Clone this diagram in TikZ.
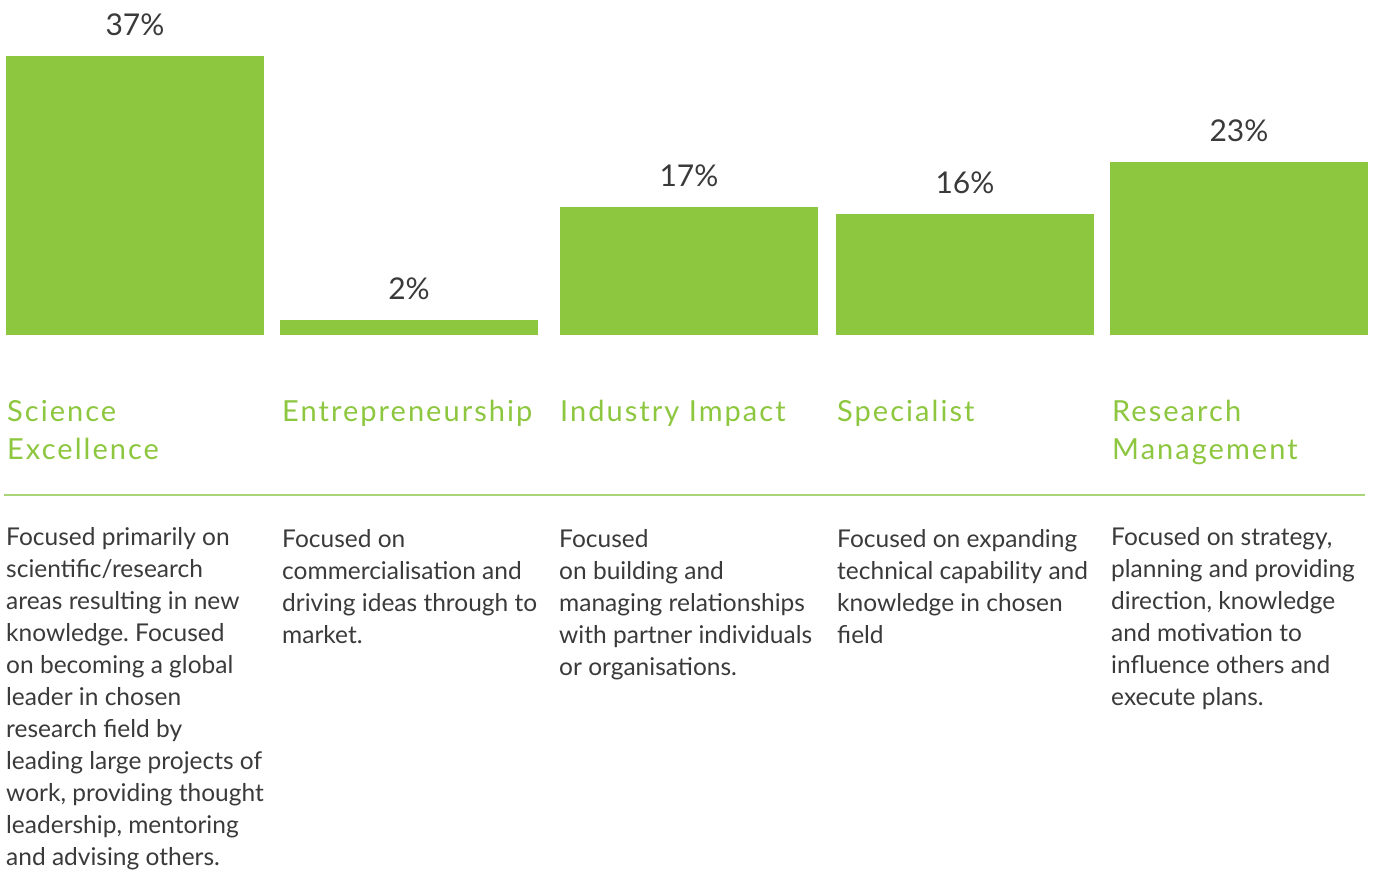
\documentclass[tikz,border=0pt]{standalone}
\usepackage{fontspec}
\setmainfont{Lato}
\newfontfamily\headfont[LetterSpace=7]{Lato}
\usetikzlibrary{positioning}
\frenchspacing

\definecolor{bargreen}{HTML}{8DC63F}
\definecolor{headgreen}{HTML}{8DC63F}
\definecolor{rulegreen}{HTML}{A9D47A}
\definecolor{bodygray}{HTML}{3A3A3A}

\tikzset{
  barfill/.style={fill=bargreen},
  pctlabel/.style={inner sep=0pt, anchor=base, font=\fontsize{30}{36}\selectfont, text=bodygray},
  headlabel/.style={inner sep=0pt, anchor=base west, align=left, font=\headfont\fontsize{29}{38}\selectfont, text=headgreen},
  bodylabel/.style={inner sep=0pt, anchor=base west, align=left, font=\fontsize{24.5}{32}\selectfont, text=bodygray}
}

\begin{document}
\begin{tikzpicture}[x=1pt, y=-1pt]
                  \useasboundingbox (0, 0) rectangle (1375, 871);

                  \foreach \x/\t/\p [count=\i] in {6/56/37, 280/320/2, 560/207/17, 836/214/16, 1110/162/23} {
                      \fill[barfill] (\x, \t) rectangle (\x+258, 335);
                      \node[pctlabel] (pct\i) at (\x+129, \t-21) {\p\%};
                  }

                  % base anchor sits on the last line
                  \node[headlabel] (science) at (7, 459) {Science\\Excellence};
                  \node[headlabel] (entre) at (282, 421) {Entrepreneurship};
                  \node[headlabel] (industry) at (560, 421) {Industry Impact};
                  \node[headlabel] (special) at (837, 421) {Specialist};
                  \node[headlabel] (manage) at (1112, 459) {Research\\Management};

                  \coordinate (ruleL) at (4, 495);
                  \coordinate (ruleR) at (1365, 495);
                  \draw[rulegreen, line width=1.5pt] (ruleL) -- (ruleR);

                  \node[bodylabel] (sciencetext) at (6, 865) {Focused primarily on\\scientific/research\\areas resulting in new\\knowledge. Focused\\on becoming a global\\leader in chosen\\research field by\\leading large projects of\\work, providing thought\\leadership, mentoring\\and advising others.};
                  \node[bodylabel] (entretext) at (282, 643) {Focused on\\commercialisation and\\driving ideas through to\\market.};
                  \node[bodylabel] (industrytext) at (559, 675) {Focused\\on building and\\managing relationships\\with partner individuals\\or organisations.};
                  \node[bodylabel] (specialtext) at (837, 643) {Focused on expanding\\technical capability and\\knowledge in chosen\\field};
                  \node[bodylabel] (managetext) at (1111, 705) {Focused on strategy,\\planning and providing\\direction, knowledge\\and motivation to\\influence others and\\execute plans.};
              \end{tikzpicture}
\end{document}
